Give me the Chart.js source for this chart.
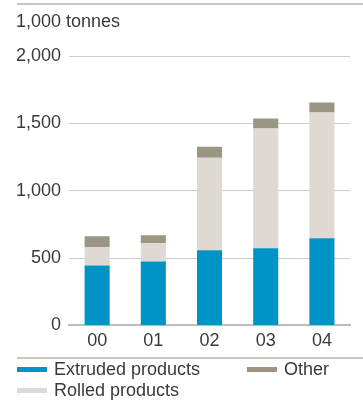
<!DOCTYPE html>
<html>
<head>
<meta charset="utf-8">
<script src="https://cdn.jsdelivr.net/npm/chart.js@4/dist/chart.umd.min.js"></script>
<style>
  html, body { margin: 0; padding: 0; background: #fff; }
  #wrap { position: relative; width: 363px; height: 401px; }
</style>
</head>
<body>
<div id="wrap"><canvas id="shipmentsChart" width="363" height="401"></canvas></div>
<script>
// Sản lượng theo năm (nghìn tấn)
const years = ['00', '01', '02', '03', '04'];
const extruded = [445, 475, 557, 572, 647];
const rolled = [135, 135, 687, 889, 933];
const other = [82, 60, 82, 75, 75];
const yTicks = [0, 500, 1000, 1500, 2000];

const FONT = '"Liberation Sans", Arial, sans-serif';
const TEXT = '#3a3a3a';

// Vẽ tiêu đề, đường kẻ ngang và chú thích
const decorPlugin = {
    id: 'decor',
    afterDraw(chart) {
        const ctx = chart.ctx;
        ctx.save();
        ctx.strokeStyle = '#cac6bd';
        ctx.lineWidth = 2;
        ctx.beginPath();
        ctx.moveTo(17, 4); ctx.lineTo(363, 4);
        ctx.moveTo(17, 358); ctx.lineTo(363, 358);
        ctx.stroke();

        ctx.fillStyle = TEXT;
        ctx.font = '18px ' + FONT;
        ctx.textBaseline = 'middle';
        ctx.textAlign = 'left';
        ctx.fillText('1,000 tonnes', 16, 22);

        const items = [
            { ds: 0, x: 17, y: 370 },
            { ds: 2, x: 247, y: 370 },
            { ds: 1, x: 17, y: 391 }
        ];
        items.forEach(it => {
            const d = chart.data.datasets[it.ds];
            ctx.fillStyle = d.backgroundColor;
            ctx.fillRect(it.x, it.y - 3, 30, 5);
            ctx.fillStyle = TEXT;
            ctx.fillText(d.label, it.x + 37, it.y);
        });
        ctx.restore();
    }
};

new Chart(document.getElementById('shipmentsChart'), {
    type: 'bar',
    data: {
        labels: years,
        datasets: [
            { label: 'Extruded products', data: extruded, backgroundColor: '#0093c6' },
            { label: 'Rolled products', data: rolled, backgroundColor: '#dedad3' },
            { label: 'Other', data: other, backgroundColor: '#9d9583' }
        ]
    },
    options: {
        responsive: false,
        animation: false,
        layout: { padding: { top: 56, left: 8, right: 13, bottom: 44 } },
        plugins: { legend: { display: false }, tooltip: { enabled: false } },
        datasets: { bar: { categoryPercentage: 1, barPercentage: 0.446 } },
        scales: {
            x: {
                stacked: true,
                grid: { display: false, drawTicks: false },
                border: { display: true, color: '#bdbdbd', width: 2 },
                ticks: { color: TEXT, font: { family: FONT, size: 18 }, padding: 5 }
            },
            y: {
                stacked: true,
                min: 0,
                max: 2000,
                afterBuildTicks: scale => { scale.ticks = yTicks.map(v => ({ value: v })); },
                grid: { color: '#cccccc', lineWidth: 1, drawTicks: false },
                border: { display: false },
                ticks: {
                    color: TEXT,
                    font: { family: FONT, size: 18 },
                    padding: 8,
                    callback: v => v.toLocaleString('en-US')
                }
            }
        }
    },
    plugins: [decorPlugin]
});
</script>
</body>
</html>
